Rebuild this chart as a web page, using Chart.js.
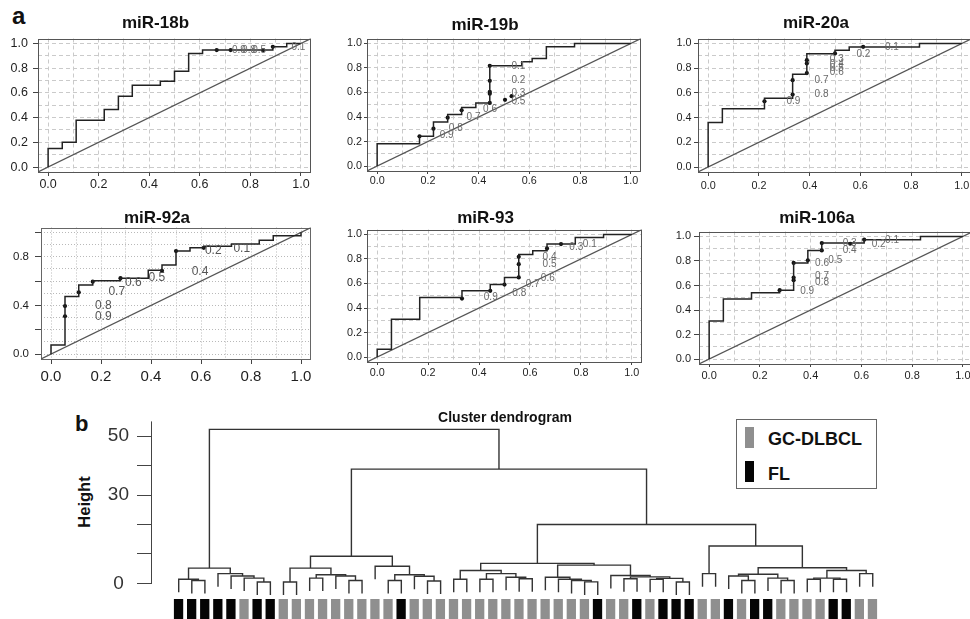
<!DOCTYPE html>
<html>
<head>
<meta charset="utf-8">
<title>ROC curves of miR-17-92 cluster members and cluster dendrogram</title>
<script src="https://cdn.jsdelivr.net/npm/chart.js@4.4.1/dist/chart.umd.min.js"></script>
<style>
html, body { margin:0; padding:0; background:#fff; overflow:hidden; }
#stage { position:relative; width:970px; height:619px; overflow:hidden; background:#fff;
         font-family:"Liberation Sans", Arial, Helvetica, sans-serif; color:#111; }
#stage canvas { position:absolute; }
.txt { position:absolute; white-space:nowrap; line-height:1; }
.sw { position:absolute; width:9px; height:21px; }
</style>
</head>
<body>
<div id="stage">
  <div class="txt" style="left:12px;top:4px;font-size:24px;font-weight:bold;">a</div>
  <div class="txt" style="left:75px;top:413px;font-size:22px;font-weight:bold;">b</div>
  <div class="txt" style="left:84px;top:502px;font-size:16.5px;font-weight:bold;transform:translate(-50%,-50%) rotate(-90deg);">Height</div>
  <div id="legend" style="position:absolute;left:736px;top:419px;width:139px;height:68px;border:1px solid #666;">
    <div class="sw" style="left:8px;top:7px;background:#8f8f8f;"></div>
    <div class="txt" style="left:31px;top:10px;font-size:18px;font-weight:bold;">GC-DLBCL</div>
    <div class="sw" style="left:8px;top:41px;background:#050505;"></div>
    <div class="txt" style="left:31px;top:45px;font-size:18px;font-weight:bold;">FL</div>
  </div>
</div>
<script>
// ================= DATA =================
// Axis ticks for the ROC panels (x: 1 - specificity, y: sensitivity)
const rocTicks = [0.0, 0.2, 0.4, 0.6, 0.8, 1.0];
const rocGrid = [0.0, 0.1, 0.2, 0.3, 0.4, 0.5, 0.6, 0.7, 0.8, 0.9, 1.0];
const rocTicks92aY = [0.0, 0.4, 0.8];

// ROC step curves: [fpr, tpr] vertices (rise first, then run to next fpr)
const roc18b = [[0,0],[0.056,0.15],[0.111,0.2],[0.222,0.378],[0.278,0.465],[0.333,0.573],[0.444,0.662],[0.5,0.695],[0.556,0.776],[0.611,0.919],[0.889,0.946],[0.944,0.973],[1,1]];
const roc19b = [[0,0],[0.167,0.183],[0.222,0.243],[0.278,0.36],[0.333,0.42],[0.389,0.477],[0.444,0.515],[0.57,0.817],[0.611,0.85],[0.667,0.877],[0.778,0.973],[1,1]];
const roc20a = [[0,0],[0.056,0.361],[0.222,0.472],[0.333,0.556],[0.389,0.75],[0.5,0.917],[0.556,0.944],[0.833,0.972],[1,1]];
const roc92a = [[0,0],[0.056,0.076],[0.111,0.473],[0.167,0.568],[0.278,0.603],[0.389,0.624],[0.444,0.689],[0.5,0.732],[0.556,0.846],[0.611,0.873],[0.722,0.886],[0.833,0.905],[0.889,0.935],[1,0.972],[1,1]];
const roc93 = [[0,0],[0.056,0.063],[0.167,0.308],[0.333,0.485],[0.444,0.54],[0.5,0.591],[0.556,0.649],[0.611,0.837],[0.667,0.866],[0.778,0.921],[0.889,0.975],[1,1]];
const roc106a = [[0,0],[0.056,0.311],[0.167,0.489],[0.278,0.541],[0.333,0.562],[0.389,0.784],[0.444,0.886],[0.611,0.946],[0.833,0.973],[1,1]];

// Threshold points printed on the curves
const dots18b = [[0.667,0.946],[0.722,0.946],[0.851,0.946],[0.889,0.973]];
const dots19b = [[0.167,0.243],[0.222,0.305],[0.278,0.395],[0.333,0.455],[0.444,0.515],[0.444,0.59],[0.444,0.605],[0.444,0.695],[0.444,0.817],[0.504,0.54],[0.53,0.57]];
const dots20a = [[0.222,0.532],[0.333,0.586],[0.333,0.703],[0.389,0.76],[0.389,0.838],[0.389,0.865],[0.5,0.919],[0.611,0.973]];
const dots92a = [[0.056,0.311],[0.056,0.395],[0.111,0.508],[0.167,0.595],[0.278,0.624],[0.444,0.684],[0.5,0.846],[0.611,0.873]];
const dots93 = [[0.333,0.477],[0.444,0.54],[0.5,0.591],[0.556,0.649],[0.556,0.757],[0.556,0.817],[0.667,0.886],[0.722,0.921]];
const dots106a = [[0.278,0.562],[0.333,0.643],[0.333,0.665],[0.333,0.784],[0.389,0.805],[0.444,0.886],[0.444,0.946],[0.556,0.94],[0.611,0.973]];

// Threshold labels: [text, fpr, tpr]
const thr18b = [["0.9",0.755,0.946],["0.8",0.795,0.946],["0.5",0.835,0.946],["0.1",0.99,0.973]];
const thr19b = [["0.1",0.557,0.815],["0.2",0.557,0.70],["0.3",0.557,0.595],["0.5",0.557,0.53],["0.6",0.445,0.46],["0.7",0.38,0.40],["0.8",0.31,0.31],["0.9",0.274,0.25]];
const thr20a = [["0.9",0.336,0.535],["0.8",0.447,0.586],["0.7",0.447,0.703],["0.3",0.507,0.87],["0.4",0.507,0.835],["0.5",0.507,0.80],["0.6",0.507,0.765],["0.2",0.612,0.911],["0.1",0.724,0.973]];
const thr92a = [["0.9",0.209,0.305],["0.8",0.209,0.40],["0.7",0.263,0.516],["0.6",0.329,0.589],["0.5",0.423,0.624],["0.4",0.596,0.676],["0.2",0.649,0.846],["0.1",0.763,0.868]];
const thr93 = [["0.9",0.446,0.485],["0.8",0.558,0.523],["0.7",0.611,0.591],["0.6",0.67,0.64],["0.5",0.677,0.757],["0.4",0.677,0.81],["0.3",0.782,0.894],["0.1",0.835,0.921]];
const thr106a = [["0.9",0.386,0.557],["0.8",0.445,0.63],["0.7",0.445,0.676],["0.6",0.445,0.778],["0.5",0.497,0.805],["0.4",0.554,0.886],["0.3",0.554,0.946],["0.2",0.668,0.935],["0.1",0.721,0.968]];

// Dendrogram (b): leaf classes in plotting order
const F = 'FL', G = 'GC-DLBCL';
const leafClass = [F,F,F,F,F,G,F,F,G,G, G,G,G,G,G,G,G,F,G,G, G,G,G,G,G,G,G,G,G,G, G,G,F,G,G,F,G,F,F,F, G,G,F,G,F,F,G,G,G,G, F,F,G,G];
// Merges (hclust style: negative = leaf index, positive = earlier merge) and heights
const mergePairs = [
  [-2,-3],[-1,1],[-7,-8],[-6,3],[-5,4],[-4,5],[2,6],
  [-9,-10],[-11,-12],[-14,-15],[-13,10],[9,11],[8,12],
  [-17,-18],[-20,-21],[-19,15],[14,16],[-16,17],[13,18],
  [-22,-23],[-24,-25],[-27,-28],[-26,22],[21,23],[20,24],
  [-32,-33],[-31,26],[-30,27],[-29,28],
  [-35,-36],[-37,-38],[-39,-40],[31,32],[30,33],[-34,34],[29,35],[25,36],
  [-41,-42],[-44,-45],[-43,39],[-47,-48],[-46,41],[40,42],[-49,-50],[-51,-52],[44,45],[-53,-54],[46,47],[43,48],[38,49],
  [37,50],[19,51],[7,52]
];
const mergeHeights = [
  1.0,1.4,0.45,1.8,2.5,3.3,5.2,
  0.45,1.8,1.0,2.5,2.95,5.2,
  1.0,0.8,2.4,2.95,5.8,9.2,
  1.4,1.4,1.6,2.1,3.3,4.4,
  0.5,1.0,1.4,2.1,
  1.6,1.36,0.45,1.7,2.2,2.7,6.2,6.8,
  3.3,1.0,2.5,1.0,1.8,3.1,1.4,1.4,1.8,3.3,4.4,5.3,12.7,
  20.0,38.8,52.3
];
const dendroTicks = [0, 10, 20, 30, 40, 50];
const dendroLabels = [0, 30, 50];

// ================= RENDERING =================
Chart.defaults.font.family = '"Liberation Sans", Arial, Helvetica, sans-serif';
Chart.defaults.color = '#222';
Chart.defaults.animation = false;
const stage = document.getElementById('stage');

function addCanvas(left, top, w, h) {
  const cv = document.createElement('canvas');
  cv.width = w; cv.height = h;
  cv.style.left = left + 'px'; cv.style.top = top + 'px';
  cv.style.width = w + 'px'; cv.style.height = h + 'px';
  stage.appendChild(cv);
  return cv;
}
const near = (arr, v) => arr.some(u => Math.abs(u - v) < 1e-6);
const major = v => Math.abs(Math.round(v * 10)) % 2 === 0;

function boxPlugin(color) {
  return { id: 'plotBox', beforeDatasetsDraw(chart) {
    const a = chart.chartArea, ctx = chart.ctx;
    ctx.save(); ctx.setLineDash([]); ctx.strokeStyle = color; ctx.lineWidth = 1;
    ctx.strokeRect(Math.round(a.left) + 0.5, Math.round(a.top) + 0.5,
                   Math.round(a.right - a.left) - 1, Math.round(a.bottom - a.top) - 1);
    ctx.restore();
  }};
}
function thrPlugin(items, size, color) {
  return { id: 'thrText', afterDatasetsDraw(chart) {
    const {ctx, scales: {x, y}} = chart;
    ctx.save();
    ctx.font = size + 'px "Liberation Sans", Arial, sans-serif';
    ctx.fillStyle = color; ctx.textAlign = 'center'; ctx.textBaseline = 'middle';
    items.forEach(([t, vx, vy]) => ctx.fillText(t, x.getPixelForValue(vx), y.getPixelForValue(vy)));
    ctx.restore();
  }};
}

const AY = 38, PR = 6, AX = 30, TLH = 17;
const rocPanels = [
  { title:'miR-18b', curve:roc18b, dots:dots18b, thr:thr18b, yLabels:rocTicks, area:[38,38,311,172], titleY:23,
    xFont:12.5, yFont:12.5, xTl:4, xPad:1, yTl:5, yPad:5, dotted:false, thrSize:10 },
  { title:'miR-19b', curve:roc19b, dots:dots19b, thr:thr19b, yLabels:rocTicks, area:[367,38,641,171], titleY:25,
    xFont:10.8, yFont:10.8, xTl:3, xPad:0.5, yTl:3, yPad:2, dotted:false, thrSize:10 },
  { title:'miR-20a', curve:roc20a, dots:dots20a, thr:thr20a, yLabels:rocTicks, area:[698,38,972,172], titleY:23,
    xFont:10.8, yFont:10.8, xTl:4, xPad:4, yTl:4, yPad:2.5, dotted:false, thrSize:10 },
  { title:'miR-92a', curve:roc92a, dots:dots92a, thr:thr92a, yLabels:rocTicks92aY, area:[41,227,311,359], titleY:218,
    xFont:15, yFont:11.5, xTl:5, xPad:3.5, yTl:6, yPad:6, dotted:true, thrSize:12 },
  { title:'miR-93', curve:roc93, dots:dots93, thr:thr93, yLabels:rocTicks, area:[367,229,642,362], titleY:218,
    xFont:10.8, yFont:10.8, xTl:3, xPad:2, yTl:3, yPad:2, dotted:false, thrSize:10 },
  { title:'miR-106a', curve:roc106a, dots:dots106a, thr:thr106a, yLabels:rocTicks, area:[699,231,973,364], titleY:218,
    xFont:11, yFont:11, xTl:3, xPad:2.5, yTl:5, yPad:3, dotted:false, thrSize:10 }
];

function rocAxis(p, which) {
  const isX = which === 'x';
  const labels = isX ? rocTicks : p.yLabels;
  return {
    type: 'linear', min: -0.04, max: 1.04,
    afterBuildTicks: s => { s.ticks = rocGrid.map(v => ({ value: v })); },
    afterFit: s => { if (isX) s.height = AX; else s.width = AY;
                     s.paddingTop = 0; s.paddingBottom = 0; s.paddingLeft = 0; s.paddingRight = 0; },
    ticks: { autoSkip: false, maxRotation: 0, minRotation: 0, color: '#1e1e1e',
             padding: isX ? p.xPad : p.yPad, font: { size: isX ? p.xFont : p.yFont },
             callback: v => near(labels, v) ? Number(v).toFixed(1) : '' },
    grid: { display: true, drawOnChartArea: true, drawTicks: true,
            color: p.dotted ? '#b9b9b9' : '#cacaca', lineWidth: 1,
            tickLength: isX ? p.xTl : p.yTl, tickWidth: 1,
            tickColor: c => (c.tick && major(c.tick.value)) ? '#444' : 'rgba(0,0,0,0)' },
    border: { display: false, dash: p.dotted ? [1, 2] : [4, 3] }
  };
}

rocPanels.forEach(p => {
  const [l, t, r, b] = p.area;
  const B = t - p.titleY - TLH / 2;
  const W = AY + (r - l) + PR;
  const H = TLH + B + (b - t) + AX;
  const cv = addCanvas(l - AY, p.titleY - TLH / 2, W, H);
  const pts = arr => arr.map(([x, y]) => ({ x, y }));
  new Chart(cv, {
    type: 'scatter',
    data: { datasets: [
      { label: 'ROC', data: pts(p.curve), showLine: true, stepped: 'after',
        borderColor: '#222', borderWidth: 1.5, pointRadius: 0, fill: false },
      { label: 'chance', data: [{ x: -0.04, y: -0.04 }, { x: 1.04, y: 1.04 }], showLine: true,
        borderColor: '#555', borderWidth: 1.2, pointRadius: 0, fill: false },
      { label: 'thresholds', data: pts(p.dots), showLine: false,
        pointRadius: 2.1, pointBackgroundColor: '#111', pointBorderWidth: 0 }
    ]},
    options: {
      responsive: false, devicePixelRatio: 1, animation: false, events: [],
      layout: { padding: { left: 0, top: 0, right: PR, bottom: 0 } },
      plugins: {
        legend: { display: false }, tooltip: { enabled: false },
        title: { display: true, text: p.title, color: '#111',
                 font: { size: 17, weight: 'bold', lineHeight: 1 },
                 padding: { top: 0, bottom: B } }
      },
      scales: { x: rocAxis(p, 'x'), y: rocAxis(p, 'y') }
    },
    plugins: [boxPlugin(p.dotted ? '#666' : '#555'), thrPlugin(p.thr, p.thrSize, p.dotted ? '#555' : '#6a6a6a')]
  });
});

// ---- Dendrogram ----
const HANG = 0.085 * (Math.max(...mergeHeights) - Math.min(...mergeHeights));
const nodeX = [];
const uShapes = mergePairs.map(([a, bb], k) => {
  const h = mergeHeights[k];
  const end = c => c < 0 ? { x: -c, y: h - HANG } : { x: nodeX[c - 1], y: mergeHeights[c - 1] };
  const A = end(a), Bn = end(bb);
  nodeX[k] = (A.x + Bn.x) / 2;
  return [A, { x: A.x, y: h }, { x: Bn.x, y: h }, Bn];
});

function axisLinePlugin(top) {
  return { id: 'axisLine', afterDraw(chart) {
    const { ctx, chartArea, scales: { y } } = chart;
    const x0 = Math.round(chartArea.left) - 0.5;
    ctx.save(); ctx.strokeStyle = '#444'; ctx.lineWidth = 1; ctx.setLineDash([]);
    ctx.beginPath();
    ctx.moveTo(x0, Math.round(y.getPixelForValue(0)) + 0.5);
    ctx.lineTo(x0, y.getPixelForValue(top));
    ctx.stroke(); ctx.restore();
  }};
}

const dcv = addCanvas(60, 411, 890, 188);
new Chart(dcv, {
  type: 'scatter',
  data: { datasets: uShapes.map((d, i) => ({
    label: 'merge ' + (i + 1), data: d, showLine: true,
    borderColor: '#333', borderWidth: 1.4, pointRadius: 0, fill: false })) },
  options: {
    responsive: false, devicePixelRatio: 1, animation: false, events: [],
    layout: { padding: 0 },
    plugins: {
      legend: { display: false }, tooltip: { enabled: false },
      title: { display: true, text: 'Cluster dendrogram', color: '#111',
               font: { size: 14, weight: 'bold', lineHeight: 1 }, padding: { top: 0, bottom: 2 } }
    },
    scales: {
      x: { type: 'linear', display: false, min: -1.04, max: 59.9 },
      y: { type: 'linear', min: -5.3, max: 53.1,
           afterBuildTicks: s => { s.ticks = dendroTicks.map(v => ({ value: v })); },
           afterFit: s => { s.width = 92; s.paddingTop = 0; s.paddingBottom = 0; },
           ticks: { autoSkip: false, color: '#333', font: { size: 19 }, padding: 8, crossAlign: 'center',
                    callback: v => near(dendroLabels, v) ? String(v) : '' },
           grid: { drawOnChartArea: false, drawTicks: true, tickLength: 15, tickColor: '#444', tickWidth: 1 },
           border: { display: false } }
    }
  },
  plugins: [axisLinePlugin(55)]
});

// ---- Class colour strip under the leaves ----
const scv = addCanvas(172, 599, 707, 26);
new Chart(scv, {
  type: 'bar',
  data: { labels: leafClass.map((c, i) => String(i + 1)),
          datasets: [{ label: 'class', data: leafClass.map(() => 1),
                       backgroundColor: leafClass.map(c => c === F ? '#050505' : '#8f8f8f'),
                       borderWidth: 0, barPercentage: 0.71, categoryPercentage: 1 }] },
  options: {
    responsive: false, devicePixelRatio: 1, animation: false, events: [],
    layout: { padding: 0 },
    plugins: { legend: { display: false }, tooltip: { enabled: false } },
    scales: { x: { display: false }, y: { display: false, min: 0, max: 1 } }
  }
});
</script>
</body>
</html>
